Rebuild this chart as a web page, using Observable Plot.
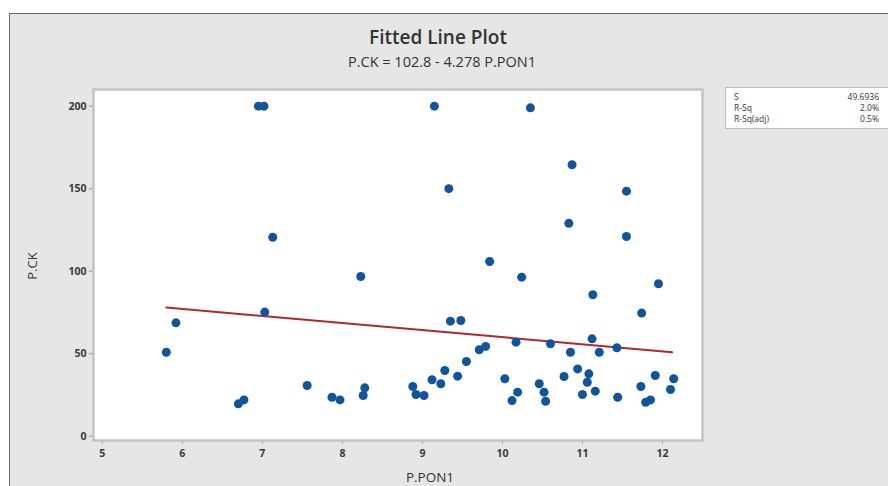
<!DOCTYPE html>
<html>
<head>
<meta charset="utf-8">
<script src="https://cdn.jsdelivr.net/npm/d3@7"></script>
<script src="https://cdn.jsdelivr.net/npm/@observablehq/plot@0.6"></script>
<style>
  html, body { margin: 0; padding: 0; background: #ffffff; }
  #wrap { position: relative; width: 888px; height: 486px; overflow: hidden; font-family: "Open Sans", "Noto Sans", sans-serif; }
  #panel { position: absolute; left: 9px; top: 13px; width: 890px; height: 480px; background: #e6e6e6; border-left: 1.5px solid #6a6a6a; border-top: 1.5px solid #6a6a6a; }
  #chart { position: absolute; left: 0; top: 0; }
  .t { position: absolute; white-space: nowrap; color: #333; }
  #title { left: 0; width: 876px; text-align: center; top: 24px; font-size: 19px; font-weight: 600; }
  #subtitle { left: 0; width: 884px; text-align: center; top: 52px; font-size: 14.5px; font-weight: 500; }
  #xlabel { left: 380px; width: 100px; text-align: center; top: 468px; font-size: 13.5px; font-weight: 500; }
  #ylabel { left: 12px; top: 257px; width: 40px; text-align: center; font-size: 13px; font-weight: 500; transform: rotate(-90deg); }
  #stats { position: absolute; left: 725px; top: 87px; width: 170px; height: 40px; background: #fff; border: 1.5px solid #bdbdbd; font-size: 8.5px; color: #333; }
  #stats .r { position: absolute; left: 8px; width: 145px; height: 10px; line-height: 10px; }
  #stats .r span { position: absolute; right: 0; top: 0; line-height: 10px; }
</style>
</head>
<body>
<div id="wrap">
  <div id="panel"></div>
  <div id="chart"></div>
  <div class="t" id="title">Fitted Line Plot</div>
  <div class="t" id="subtitle">P.CK = 102.8 - 4.278 P.PON1</div>
  <div class="t" id="xlabel">P.PON1</div>
  <div class="t" id="ylabel">P.CK</div>
  <div id="stats"></div>
</div>
<script>
// Data
const pon1 = [5.80, 5.92, 6.70, 6.77, 6.95, 7.02, 7.03, 7.13, 7.56, 7.87, 7.97, 8.23, 8.26, 8.28,
  8.88, 8.92, 9.02, 9.12, 9.15, 9.23, 9.28, 9.33, 9.35, 9.44, 9.48, 9.55, 9.71, 9.79, 9.84,
  10.03, 10.12, 10.17, 10.19, 10.24, 10.35, 10.46, 10.52, 10.54, 10.60, 10.77, 10.83, 10.85, 10.87,
  10.94, 11.00, 11.06, 11.08, 11.12, 11.13, 11.16, 11.21, 11.43, 11.44, 11.55, 11.55,
  11.73, 11.74, 11.79, 11.85, 11.91, 11.95, 12.10, 12.14];
const ck = [50.9, 68.7, 19.6, 22.0, 200, 200, 75.2, 120.6, 30.7, 23.6, 22.0, 96.8, 24.7, 29.3,
  30.1, 25.3, 24.7, 34.2, 200, 31.8, 39.8, 150, 69.7, 36.4, 70.1, 45.3, 52.4, 54.4, 105.9,
  34.8, 21.6, 57.0, 26.7, 96.4, 199, 31.8, 26.7, 21.2, 56.0, 36.2, 129, 50.9, 164.5,
  40.8, 25.3, 32.7, 37.8, 59.0, 85.7, 27.3, 50.9, 53.6, 23.6, 148.5, 121,
  30.1, 74.6, 20.6, 22.0, 36.8, 92.4, 28.3, 34.8];
const fitX = [5.80, 12.12];
const intercept = 102.8, slope = -4.278;
const xTicks = [5, 6, 7, 8, 9, 10, 11, 12];
const yTicks = [0, 50, 100, 150, 200];
const statLabels = ["S", "R-Sq", "R-Sq(adj)"];
const statValues = ["49.6936", "2.0%", "0.5%"];

const points = pon1.map((x, i) => ({x, y: ck[i]}));
const fit = fitX.map(x => ({x, y: intercept + slope * x}));

const chart = Plot.plot({
  width: 888,
  height: 486,
  marginLeft: 93,
  marginRight: 186,
  marginTop: 89,
  marginBottom: 46,
  style: {background: "transparent", fontFamily: "'Open Sans', 'Noto Sans', sans-serif", fontSize: "10.5px", color: "#444"},
  x: {domain: [4.89, 12.5], ticks: xTicks, tickSize: 4, tickPadding: 5, label: null, tickFormat: d => String(d)},
  y: {domain: [-2.6, 210.1], ticks: yTicks, tickSize: 4, tickPadding: 3, label: null, tickFormat: d => String(d)},
  marks: [
    Plot.frame({fill: "#ffffff", stroke: "none"}),
    Plot.axisX({ticks: xTicks, tickSize: 4, tickPadding: 5, stroke: "#999", fill: "#3a3a3a", fontWeight: 700}),
    Plot.axisY({ticks: yTicks, tickSize: 4, tickPadding: 3, stroke: "#999", fill: "#3a3a3a", fontWeight: 700}),
    Plot.line(fit, {x: "x", y: "y", stroke: "#b0282c", strokeWidth: 2}),
    Plot.dot(points, {x: "x", y: "y", r: 4.5, fill: "#12549c", stroke: "none"}),
    Plot.frame({stroke: "#c4c4c4", strokeWidth: 2.5})
  ]
});
document.getElementById("chart").appendChild(chart);

const stats = document.getElementById("stats");
statLabels.forEach((lab, i) => {
  const row = document.createElement("div");
  row.className = "r";
  row.style.top = (4 + i * 11) + "px";
  row.textContent = lab;
  const v = document.createElement("span");
  v.textContent = statValues[i];
  row.appendChild(v);
  stats.appendChild(row);
});
</script>
</body>
</html>
